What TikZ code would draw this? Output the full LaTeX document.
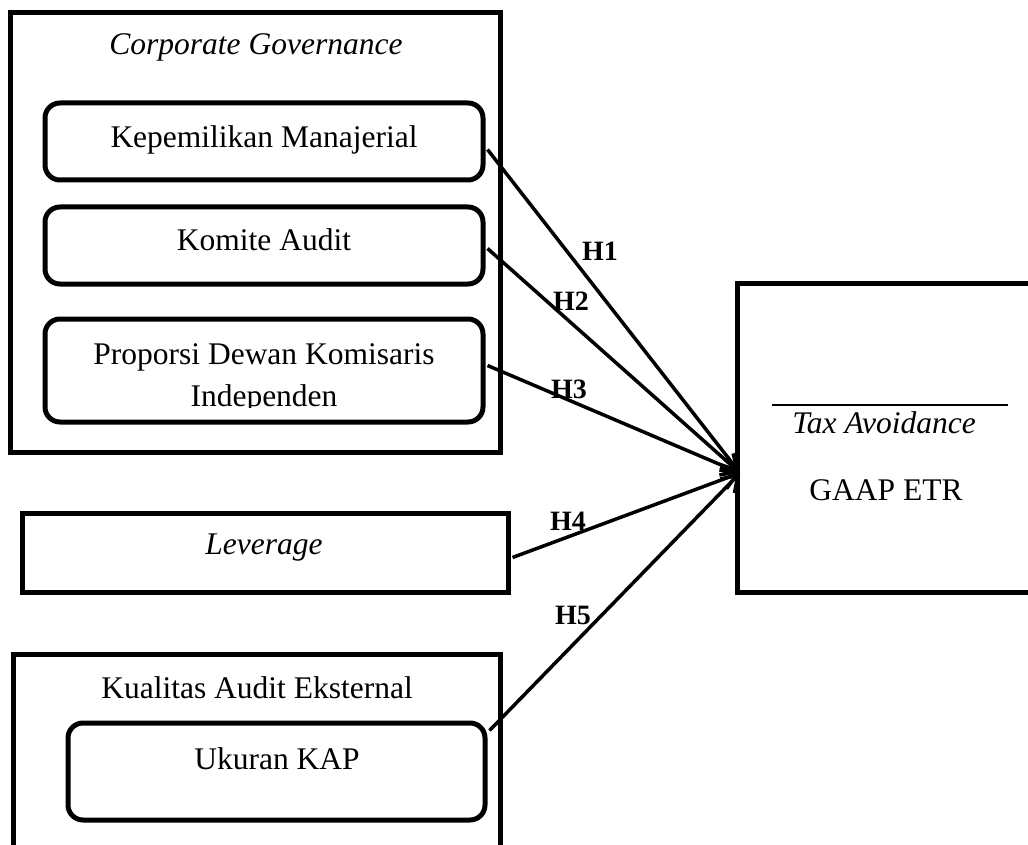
\documentclass[tikz,border=0pt]{standalone}
\usepackage{fontspec}
\setmainfont{Liberation Serif}
\usetikzlibrary{arrows.meta,calc}
\tikzset{
  outerbox/.style={draw, line width=5pt, inner sep=0pt, minimum width=#1},
  roundbox/.style={draw, line width=5pt, rounded corners=15pt, inner sep=0pt},
  txt/.style={inner sep=0pt, anchor=base, font=\fontsize{31.5}{42}\selectfont},
  itxt/.style={inner sep=0pt, anchor=base, font=\fontsize{31.5}{42}\selectfont\itshape},
  hlab/.style={inner sep=0pt, font=\fontsize{28}{32}\selectfont\bfseries},
  arr/.style={line width=3.5pt, -{Straight Barb[length=15pt, width=20pt, line width=3.5pt]}}
}
\begin{document}
\begin{tikzpicture}[x=1pt,y=-1pt]
\useasboundingbox (0,0) rectangle (1028,845);
\clip (0,0) rectangle (1028,845);
% Corporate Governance group
\node[outerbox=490pt, minimum height=439pt] (cg) at (255,232.5) {};
\node[itxt] (cgt) at (256,55) {Corporate Governance};
\node[roundbox, minimum width=438pt, minimum height=77pt] (kep) at (264,141.5) {};
\node[txt] (kept) at (264,148) {Kepemilikan Manajerial};
\node[roundbox, minimum width=438pt, minimum height=77pt] (kom) at (264,245.5) {};
\node[txt] (komt) at (264,251) {Komite Audit};
\node[roundbox, minimum width=438pt, minimum height=103pt] (pro) at (264,370.5) {};
\node[txt] (prot) at (264,364) {Proporsi Dewan Komisaris};
\begin{scope}
\clip (0,0) rectangle (1028,407);
\node[txt] (prot2) at (264,406) {Independen};
\end{scope}
% Leverage
\node[outerbox=486pt, minimum height=79pt] (lev) at (265,552.5) {};
\node[itxt] (levt) at (264,554) {Leverage};
% Kualitas Audit Eksternal
\node[outerbox=487pt, minimum height=206pt] (kae) at (256.5,757) {};
\node[txt] (kaet) at (257,698) {Kualitas Audit Eksternal};
\node[roundbox, minimum width=417pt, minimum height=97pt] (uk) at (276.5,771.5) {};
\node[txt] (ukt) at (277,769) {Ukuran KAP};
% Tax Avoidance
\node[outerbox=303pt, minimum height=309pt] (tax) at (888.5,437.5) {};
\draw[line width=1.5pt] (772,405) -- (1008,405);
\node[itxt] (taxt) at (884,433) {Tax Avoidance};
\node[txt] (gaap) at (886,500) {GAAP ETR};
\coordinate (tip) at (740,473);
% connectors
\draw[arr] ($(kep.east)+(2,8)$) -- (tip);
\draw[arr] ($(kom.east)+(2,3)$) -- (tip);
\draw[arr] ($(pro.east)+(2,-5)$) -- (tip);
\draw[arr] ($(lev.east)+(2,5)$) -- (tip);
\draw[arr] ($(uk.north east)+(2,10)$) -- (tip);
% labels
\node[hlab] (h1) at (600,251) {H1};
\node[hlab] (h2) at (571,301) {H2};
\node[hlab] (h3) at (569,389) {H3};
\node[hlab] (h4) at (568,521) {H4};
\node[hlab] (h5) at (573,615) {H5};
\end{tikzpicture}
\end{document}
